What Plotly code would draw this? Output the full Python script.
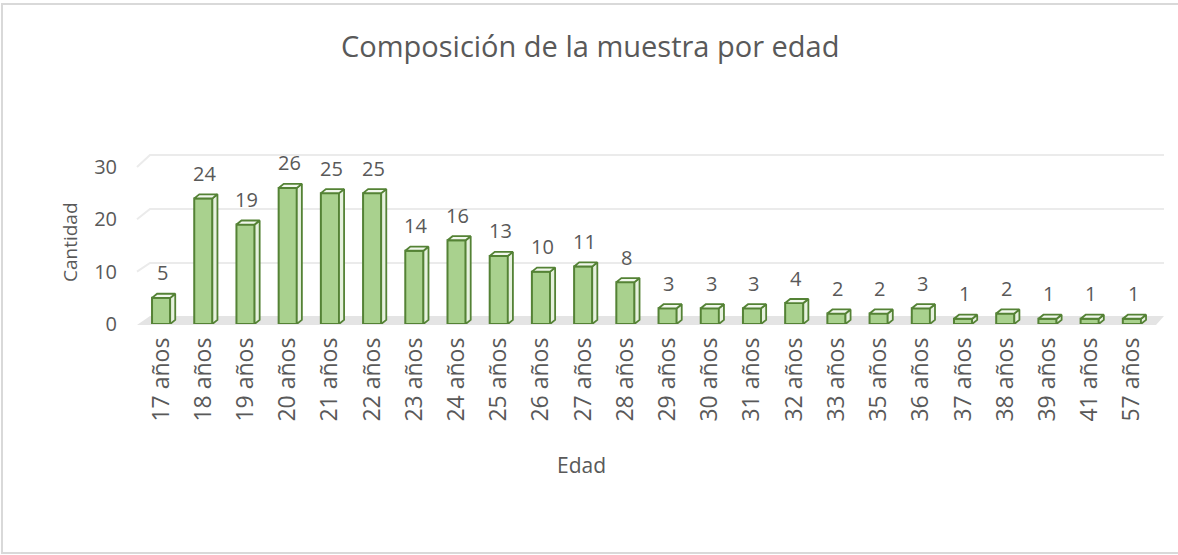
import plotly.graph_objects as go

# ---- data ----
categories = ["17 años", "18 años", "19 años", "20 años", "21 años", "22 años",
              "23 años", "24 años", "25 años", "26 años", "27 años", "28 años",
              "29 años", "30 años", "31 años", "32 años", "33 años", "35 años",
              "36 años", "37 años", "38 años", "39 años", "41 años", "57 años"]
counts = [5, 24, 19, 26, 25, 25, 14, 16, 13, 10, 11, 8,
          3, 3, 3, 4, 2, 2, 3, 1, 2, 1, 1, 1]
y_ticks = [0, 10, 20, 30]

# ---- geometry helpers (pixel -> paper) ----
W, H = 1178, 555
PL, PR, PT, PB = 140, 1153, 150, 324
def fx(p):
    return (p - PL) / (PR - PL)
def fy(p):
    return (PB - p) / (PB - PT)

GREEN_DARK = "#548235"
GREEN_FRONT = "#A9D18E"
GREEN_SIDE = "#E6F1DE"
GREEN_TOP = "#F1F7EC"
GRAY_TXT = "#595959"
FONT = "Open Sans"

xs = list(range(len(categories)))
bw = 0.43          # bar width in category units
dx = 0.12          # depth (x) in category units
dy = 0.78          # depth (y) in value units

fig = go.Figure()

# front faces
fig.add_trace(go.Bar(
    x=xs, y=counts, width=bw,
    marker=dict(color=GREEN_FRONT, line=dict(color=GREEN_DARK, width=2)),
    hoverinfo="skip", showlegend=False,
))

# side faces
sx, sy = [], []
for i, v in zip(xs, counts):
    r = i + bw / 2
    sx += [r, r + dx, r + dx, r, r, None]
    sy += [0, dy, v + dy, v, 0, None]
fig.add_trace(go.Scatter(
    x=sx, y=sy, mode="lines", fill="toself", fillcolor=GREEN_SIDE,
    line=dict(color=GREEN_DARK, width=1.8), hoverinfo="skip", showlegend=False,
))

# top faces
tx, ty = [], []
for i, v in zip(xs, counts):
    l, r = i - bw / 2, i + bw / 2
    tx += [l, r, r + dx, l + dx, l, None]
    ty += [v, v, v + dy, v + dy, v, None]
fig.add_trace(go.Scatter(
    x=tx, y=ty, mode="lines", fill="toself", fillcolor=GREEN_TOP,
    line=dict(color=GREEN_DARK, width=1.8), hoverinfo="skip", showlegend=False,
))

# data labels
annotations = []
for i, v in zip(xs, counts):
    annotations.append(dict(
        x=i + 0.03, y=v, xref="x", yref="y", text=str(v), showarrow=False,
        yshift=25, yanchor="middle", xanchor="center",
        font=dict(family=FONT, size=20, color=GRAY_TXT),
    ))

# axis titles + chart title
annotations += [
    dict(x=fx(70), y=fy(242), xref="paper", yref="paper", text="Cantidad",
         textangle=-90, showarrow=False, xanchor="center", yanchor="middle",
         font=dict(family=FONT, size=19, color=GRAY_TXT)),
    dict(x=fx(581), y=fy(465), xref="paper", yref="paper", text="Edad",
         showarrow=False, xanchor="center", yanchor="middle",
         font=dict(family=FONT, size=21, color=GRAY_TXT)),
    dict(x=fx(590), y=fy(45), xref="paper", yref="paper",
         text="Composición de la muestra por edad",
         showarrow=False, xanchor="center", yanchor="middle",
         font=dict(family=FONT, size=29, color=GRAY_TXT)),
]

# shapes: back-wall gridlines, floor, outer border
shapes = []
for k in y_ticks[1:]:
    front_y = 324 - 5.233 * k
    back_y = 317 - 5.4 * k
    shapes.append(dict(
        type="path", xref="paper", yref="paper", layer="below",
        path=f"M {fx(137)},{fy(front_y)} L {fx(150)},{fy(back_y)} L {fx(1164)},{fy(back_y)}",
        line=dict(color="#EBEBEB", width=2),
    ))
shapes.append(dict(
    type="path", xref="paper", yref="paper", layer="below",
    path=(f"M {fx(137)},{fy(325)} L {fx(1156)},{fy(325)} "
          f"L {fx(1164)},{fy(316)} L {fx(150)},{fy(316)} Z"),
    fillcolor="#E4E4E4", line=dict(width=0),
))
shapes.append(dict(
    type="path", xref="paper", yref="paper", layer="above",
    path=(f"M {fx(1178)},{fy(4)} L {fx(2)},{fy(4)} L {fx(2)},{fy(553)} "
          f"L {fx(1178)},{fy(553)}"),
    line=dict(color="#D9D9D9", width=2),
))

fig.update_layout(
    width=W, height=H,
    margin=dict(l=PL, r=W - PR, t=PT, b=H - PB),
    paper_bgcolor="white", plot_bgcolor="rgba(0,0,0,0)",
    font=dict(family=FONT, color=GRAY_TXT),
    bargap=0.5,
    showlegend=False,
    annotations=annotations,
    shapes=shapes,
    xaxis=dict(
        range=[-0.5, len(categories) - 0.5],
        tickmode="array", tickvals=xs, ticktext=categories,
        tickangle=-90, showgrid=False, zeroline=False, showline=False,
        ticks="", ticklabelstandoff=8,
        tickfont=dict(family=FONT, size=23, color=GRAY_TXT),
        fixedrange=True,
    ),
    yaxis=dict(
        range=[0, 30], domain=[0, (324 - 167) / (PB - PT)],
        tickmode="array", tickvals=y_ticks,
        showgrid=False, zeroline=False, showline=False, ticks="",
        ticklabelstandoff=22,
        tickfont=dict(family=FONT, size=20, color=GRAY_TXT),
        fixedrange=True,
    ),
)

fig.write_html(
    "out.html",
    config={"displayModeBar": False},
    post_script=("var s=document.createElement('style');"
                 "s.textContent='html,body{margin:0;padding:0;overflow:hidden;scrollbar-width:none;}"
                 "::-webkit-scrollbar{display:none;width:0;height:0;}';"
                 "document.head.appendChild(s);"
                 "window.dispatchEvent(new Event('resize'));"),
)
